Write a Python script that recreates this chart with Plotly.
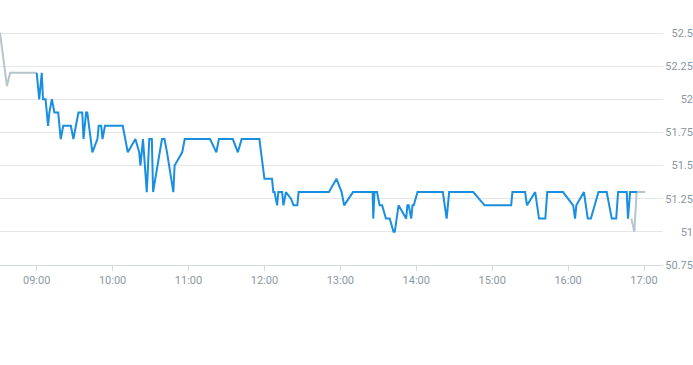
import plotly.graph_objects as go

DAY = "2024-01-02 "

pre_times = ["08:31:00", "08:36:30", "08:39:00", "09:00:00"]
pre_values = [52.5, 52.1, 52.2, 52.2]

main_times = [
    "09:00:00", "09:02:00", "09:04:00", "09:05:00", "09:07:00", "09:09:00", "09:10:00", "09:12:00",
    "09:14:00", "09:17:00", "09:19:00", "09:21:00", "09:27:00", "09:29:00", "09:33:00", "09:36:00",
    "09:37:00", "09:39:00", "09:40:00", "09:44:00", "09:48:00", "09:49:00", "09:51:00", "09:52:00",
    "09:54:00", "10:08:00", "10:12:00", "10:18:00", "10:21:00", "10:22:00", "10:24:00", "10:27:00",
    "10:29:00", "10:31:00", "10:32:00", "10:39:00", "10:41:00", "10:43:00", "10:48:00", "10:49:00",
    "10:55:00", "10:57:00", "11:17:00", "11:22:00", "11:24:00", "11:35:00", "11:39:00", "11:42:00",
    "11:56:00", "12:00:00", "12:06:00", "12:07:00", "12:08:00", "12:10:00", "12:11:00", "12:14:00",
    "12:15:00", "12:17:00", "12:21:00", "12:23:00", "12:26:00", "12:27:00", "12:51:00", "12:57:00",
    "13:01:00", "13:03:00", "13:10:00", "13:25:30", "13:26:00", "13:27:00", "13:29:00", "13:31:00",
    "13:33:00", "13:36:00", "13:39:00", "13:42:00", "13:43:00", "13:46:00", "13:52:00", "13:53:00",
    "13:54:00", "13:56:00", "13:57:00", "13:58:00", "14:01:00", "14:21:00", "14:24:00", "14:26:00",
    "14:45:00", "14:54:00", "15:15:00", "15:16:00", "15:26:00", "15:27:30", "15:34:00", "15:37:00",
    "15:42:00", "15:43:30", "15:56:00", "16:04:00", "16:05:30", "16:06:30", "16:12:30", "16:15:30",
    "16:18:00", "16:24:00", "16:30:30", "16:34:30", "16:38:00", "16:39:30", "16:46:20", "16:47:20",
    "16:49:00", "16:54:30",
]
main_values = [
    52.2, 52.0, 52.2, 52.0, 52.0, 51.8, 51.9, 52.0,
    51.9, 51.9, 51.7, 51.8, 51.8, 51.7, 51.9, 51.9,
    51.7, 51.9, 51.9, 51.6, 51.7, 51.8, 51.8, 51.7,
    51.8, 51.8, 51.6, 51.7, 51.6, 51.5, 51.7, 51.3,
    51.7, 51.7, 51.3, 51.7, 51.7, 51.6, 51.3, 51.5,
    51.6, 51.7, 51.7, 51.6, 51.7, 51.7, 51.6, 51.7,
    51.7, 51.4, 51.4, 51.3, 51.3, 51.2, 51.3, 51.3,
    51.2, 51.3, 51.25, 51.2, 51.2, 51.3, 51.3, 51.4,
    51.3, 51.2, 51.3, 51.3, 51.1, 51.3, 51.3, 51.2,
    51.2, 51.1, 51.1, 51.0, 51.0, 51.2, 51.1, 51.2,
    51.2, 51.1, 51.2, 51.2, 51.3, 51.3, 51.1, 51.3,
    51.3, 51.2, 51.2, 51.3, 51.3, 51.2, 51.3, 51.1,
    51.1, 51.3, 51.3, 51.2, 51.1, 51.2, 51.3, 51.1,
    51.1, 51.3, 51.3, 51.1, 51.1, 51.3, 51.3, 51.1,
    51.3, 51.3,
]

post_times = ["16:50:00", "16:52:20", "16:54:10", "17:01:00"]
post_values = [51.1, 51.0, 51.3, 51.3]

x_ticks = ["09:00", "10:00", "11:00", "12:00", "13:00", "14:00", "15:00", "16:00", "17:00"]
y_ticks = [50.75, 51, 51.25, 51.5, 51.75, 52, 52.25, 52.5]
y_tick_labels = ["50.75", "51", "51.25", "51.5", "51.75", "52", "52.25", "52.5"]

GRAY = "#b7c5cd"
BLUE = "#1a8fe0"
TEXT = "#8d97a1"

# layout geometry (pixels)
W, H = 693, 365
PLOT_RIGHT = 663
VALUE_TOP_PX, VALUE_BOTTOM_PX = 33, 265      # where 52.5 and 50.75 sit
PAD = 10                                       # room so edge labels are not hidden
Y_LO, Y_HI = 50.75, 52.5
per_px = (Y_HI - Y_LO) / (VALUE_BOTTOM_PX - VALUE_TOP_PX)
plot_h = (VALUE_BOTTOM_PX - VALUE_TOP_PX) + 2 * PAD

fig = go.Figure()
fig.add_trace(go.Scatter(x=[DAY + t for t in pre_times], y=pre_values, mode="lines",
                         line=dict(color=GRAY, width=2), hoverinfo="skip"))
fig.add_trace(go.Scatter(x=[DAY + t for t in post_times], y=post_values, mode="lines",
                         line=dict(color=GRAY, width=2), hoverinfo="skip"))
fig.add_trace(go.Scatter(x=[DAY + t for t in main_times], y=main_values, mode="lines",
                         line=dict(color=BLUE, width=2), hoverinfo="skip"))

fig.update_layout(
    width=W, height=H,
    margin=dict(l=0, r=0, t=VALUE_TOP_PX - PAD, b=H - VALUE_BOTTOM_PX - PAD),
    paper_bgcolor="white", plot_bgcolor="white",
    showlegend=False,
    font=dict(family="Roboto, Arial, sans-serif", size=11, color=TEXT),
    xaxis=dict(
        type="date",
        domain=[0, PLOT_RIGHT / W],
        range=[DAY + "08:31:00", DAY + "17:15:00"],
        tickvals=[DAY + t for t in x_ticks],
        ticktext=x_ticks,
        anchor="free", position=PAD / plot_h,
        showgrid=False,
        showline=True, linecolor="#d5dadf", linewidth=1,
        ticks="outside", ticklen=5, tickcolor="#d5dadf",
        zeroline=False, automargin=False,
        tickfont=dict(size=11, color=TEXT),
    ),
    yaxis=dict(
        range=[Y_LO - PAD * per_px, Y_HI + PAD * per_px],
        tickvals=y_ticks, ticktext=y_tick_labels,
        side="right", anchor="free", position=1.0,
        ticklabelposition="inside", ticklabelstandoff=-3,
        ticks="",
        showgrid=True, gridcolor="#e4e7ea", gridwidth=1,
        zeroline=False, showline=False, automargin=False,
        tickfont=dict(size=11, color=TEXT),
    ),
)

fig.write_html(
    "out.html",
    config={"displayModeBar": False},
    post_script="document.body.style.margin='0';document.body.style.overflow='hidden';",
)
